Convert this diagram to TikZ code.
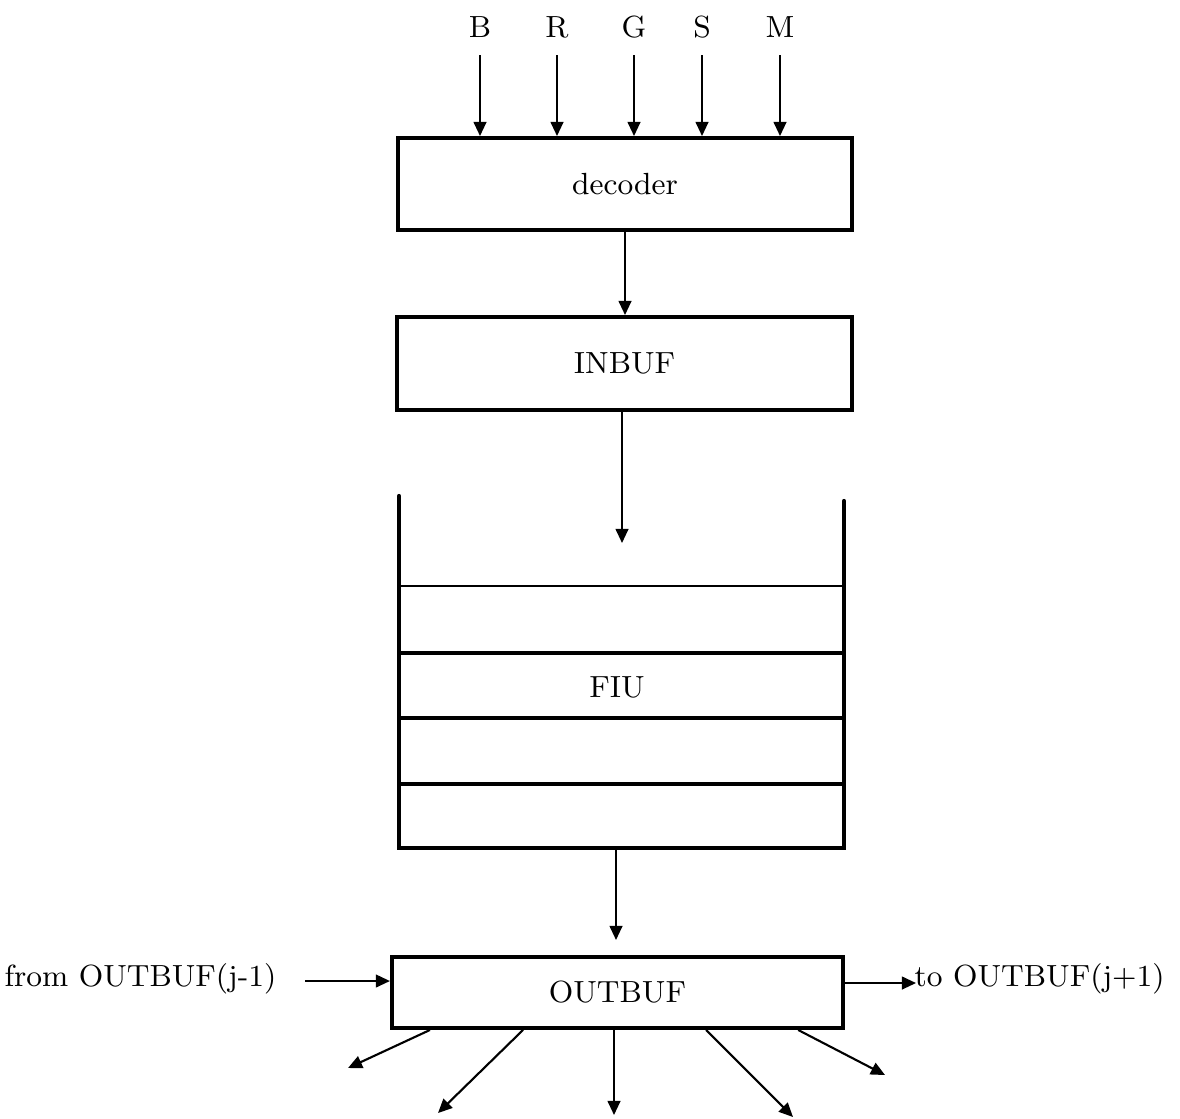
\documentclass[tikz,border=0pt]{standalone}
\usetikzlibrary{arrows.meta}
\begin{document}
\begin{tikzpicture}[x=0.01cm,y=-0.01cm,
  every node/.style={font=\fontsize{8.7pt}{10pt}\selectfont},
  blk/.style={draw,line width=1.1pt,inner sep=0pt,anchor=center},
  arr/.style={line width=0.6pt,-{Triangle[length=4pt,width=3.6pt]}},
  wall/.style={line width=1.2pt},
  shelf/.style={line width=0.9pt}]
\useasboundingbox (0,0) rectangle (1180,1118);

% top inputs
\node (lB) at (480,27) {B};
\node (lR) at (557,27) {R};
\node (lG) at (634,27) {G};
\node (lS) at (702,27) {S};
\node (lM) at (780,27) {M};

% decoder
\node[blk,minimum width=4.54cm,minimum height=0.92cm] (dec) at (625,184) {decoder};
\foreach \n/\xx in {B/480,R/557,G/634,S/702,M/780}{
  \coordinate (s\n) at (\xx,55);
  \draw[arr] (s\n) -- (s\n |- dec.north);
}

% INBUF
\node[blk,minimum width=4.55cm,minimum height=0.93cm] (inb) at (624.5,363.5) {INBUF};
\draw[arr] (dec.south) -- (dec.south |- inb.north);

% FIU stack
\coordinate (fin) at (622,543);
\draw[arr] (fin |- inb.south) -- (fin);
\coordinate (fl) at (399,496);
\coordinate (fr) at (844,501);
\coordinate (fbl) at (399,848);
\coordinate (fbr) at (844,848);
\draw[wall,line cap=round,line join=miter] (fl) -- (fbl) -- (fbr) -- (fr);
\draw[line width=0.75pt] (399,586) -- (844,586);
\draw[shelf] (399,653) -- (844,653);
\draw[shelf] (399,718) -- (844,718);
\draw[shelf] (399,784) -- (844,784);
\node (fiu) at (617,687) {FIU};

% OUTBUF
\coordinate (fout) at (616,848);
\coordinate (ftip) at (616,940);
\draw[arr] (fout) -- (ftip);
\node[blk,minimum width=4.51cm,minimum height=0.71cm] (out) at (617.5,992.5) {OUTBUF};

% side connections
\node[anchor=base east,inner sep=0pt] (fromL) at (277,986) {from OUTBUF(j-1)};
\coordinate (inL) at (305,981);
\draw[arr] (inL) -- (inL -| out.west);
\node[anchor=base west,inner sep=0pt] (toL) at (914,986) {to OUTBUF(j+1)};
\coordinate (outR) at (916,983);
\draw[arr] (outR -| out.east) -- (outR);

% bottom outputs
\coordinate (e1) at (348,1068);
\coordinate (e2) at (438,1113);
\coordinate (e3) at (614,1115);
\coordinate (e4) at (793,1117);
\coordinate (e5) at (885,1075);
\draw[arr] ([xshift=0.40cm]out.south west) -- (e1);
\draw[arr] ([xshift=1.33cm]out.south west) -- (e2);
\draw[arr] (e3 |- out.south) -- (e3);
\draw[arr] ([xshift=3.16cm]out.south west) -- (e4);
\draw[arr] ([xshift=4.08cm]out.south west) -- (e5);
\end{tikzpicture}
\end{document}
